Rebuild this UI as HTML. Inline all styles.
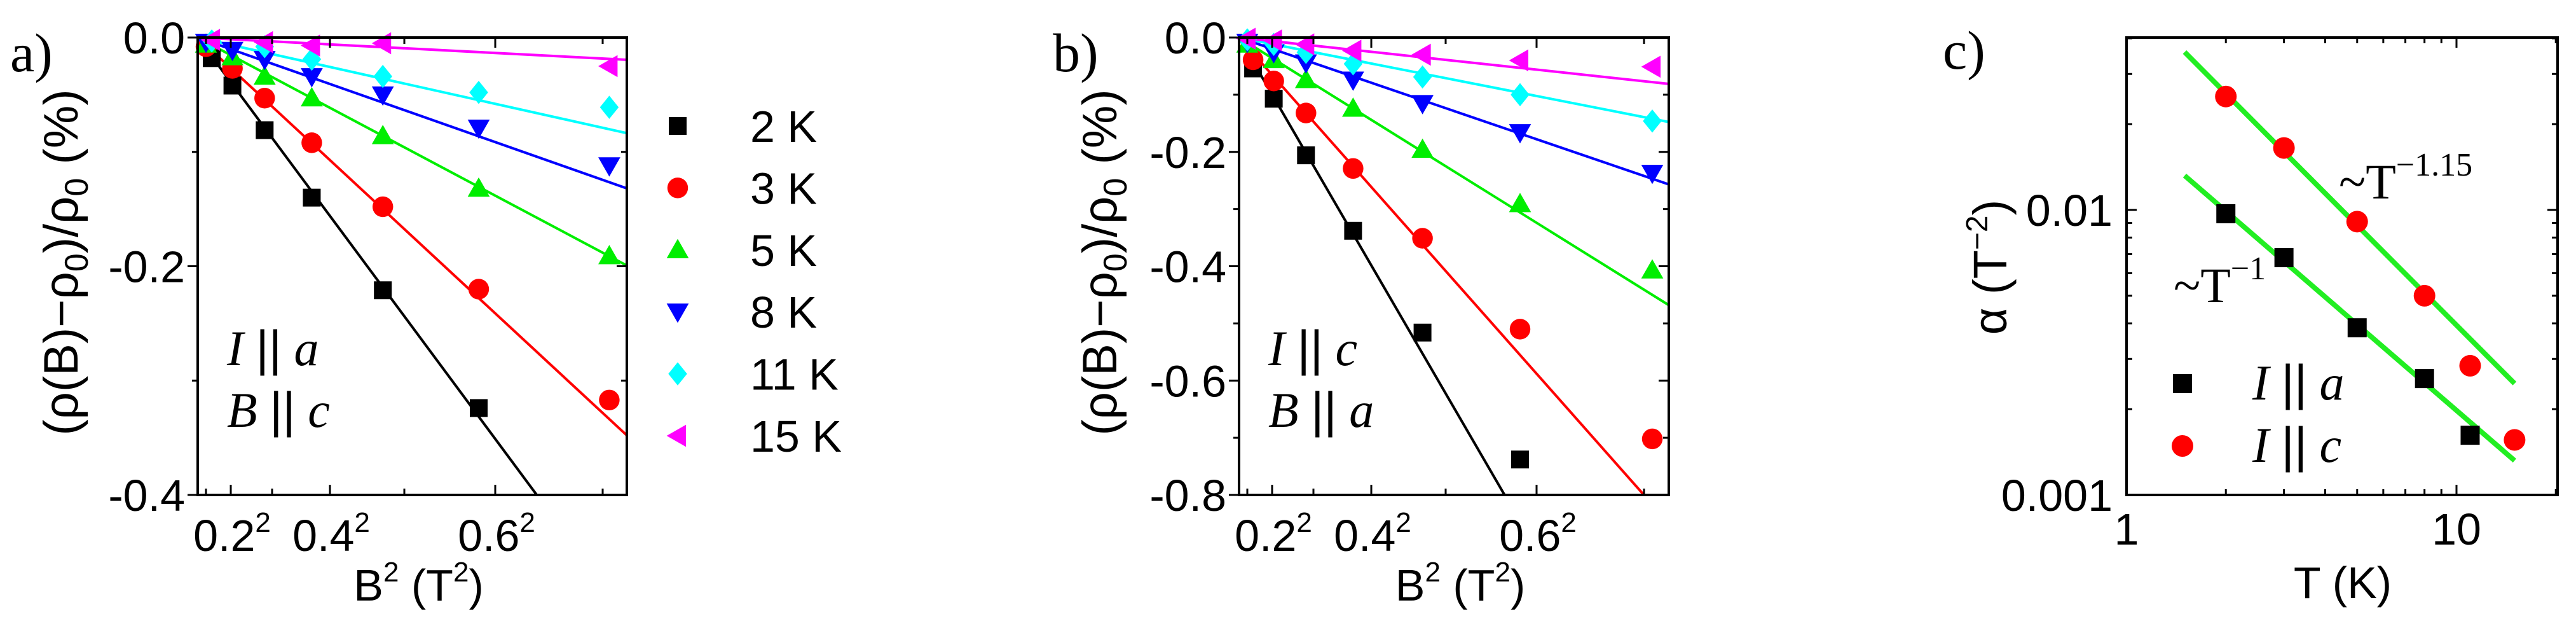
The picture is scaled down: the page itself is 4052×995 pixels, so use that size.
<!DOCTYPE html>
<html><head><meta charset="utf-8"><style>
html,body{margin:0;padding:0;background:#fff;overflow:hidden;width:4052px;height:995px;}
svg{display:block;}
text{font-family:"Liberation Sans",sans-serif;fill:#000;}
.serif{font-family:"Liberation Serif",serif;}
</style></head><body>
<svg id="fig" width="4052" height="995" viewBox="0 0 4052 995" xmlns="http://www.w3.org/2000/svg"></svg>
<script>
// ---------- data ----------
const tempLabels = ["2 K","3 K","5 K","8 K","11 K","15 K"];
const seriesColors = ["#000000","#ff0000","#00ee00","#0000ff","#00ffff","#ff00ff"];
const markerShapes = ["square","circle","up","down","diamond","left"];
// panel a
const aB2 = [
  [0.017,0.042,0.081,0.138,0.224,0.340],
  [0.010,0.042,0.081,0.138,0.224,0.340,0.498],
  [0.010,0.042,0.081,0.138,0.224,0.340,0.498],
  [0.010,0.042,0.081,0.138,0.224,0.340,0.498],
  [0.017,0.081,0.138,0.224,0.340,0.498],
  [0.017,0.081,0.138,0.224,0.498]
];
const aVals = [
  [-0.018,-0.042,-0.081,-0.140,-0.221,-0.324],
  [-0.008,-0.027,-0.053,-0.092,-0.148,-0.220,-0.317],
  [-0.006,-0.017,-0.034,-0.053,-0.086,-0.132,-0.191],
  [-0.004,-0.011,-0.019,-0.034,-0.050,-0.079,-0.112],
  [-0.003,-0.008,-0.019,-0.034,-0.048,-0.061],
  [-0.002,-0.004,-0.007,-0.005,-0.025]
];
const aSlopes = [-0.975,-0.67,-0.384,-0.254,-0.161,-0.0375];
// panel b
const bB2 = [
  [0.017,0.042,0.081,0.138,0.222,0.340],
  [0.017,0.042,0.081,0.138,0.222,0.340,0.500],
  [0.010,0.042,0.081,0.138,0.222,0.340,0.500],
  [0.010,0.042,0.081,0.138,0.222,0.340,0.500],
  [0.010,0.042,0.081,0.138,0.222,0.340,0.500],
  [0.010,0.042,0.081,0.138,0.222,0.340,0.500]
];
const bVals = [
  [-0.054,-0.107,-0.206,-0.338,-0.516,-0.738],
  [-0.039,-0.076,-0.132,-0.229,-0.351,-0.510,-0.702],
  [-0.012,-0.039,-0.074,-0.124,-0.196,-0.291,-0.407],
  [-0.008,-0.026,-0.044,-0.074,-0.115,-0.166,-0.237],
  [-0.004,-0.012,-0.026,-0.046,-0.069,-0.100,-0.146],
  [-0.002,-0.005,-0.012,-0.023,-0.030,-0.040,-0.051]
];
const bSlopes = [-2.49,-1.633,-0.90,-0.494,-0.284,-0.156];
// panel c
const cTa = [2,3,5,8,11];
const cAlphaA = [0.0097,0.0068,0.00386,0.00256,0.00162];
const cTc = [2,3,5,8,11,15];
const cAlphaC = [0.0250,0.0165,0.0091,0.0050,0.00284,0.00156];
const fitA = [[1.5,0.0132],[15,0.00132]];
const fitC = [[1.5,0.0358],[15,0.00246]];

const aYTicks = [0,-0.2,-0.4];
const aYTickLabels = ["0.0","-0.2","-0.4"];
const bYTicks = [0,-0.2,-0.4,-0.6,-0.8];
const bYTickLabels = ["0.0","-0.2","-0.4","-0.6","-0.8"];
const xTickB = [0.2,0.4,0.6];

const FS = 70;

// ---------- helpers ----------
const NS="http://www.w3.org/2000/svg";
const svg=document.getElementById('fig');
function mk(tag,attrs,parent){const e=document.createElementNS(NS,tag);for(const k in attrs)e.setAttribute(k,attrs[k]);(parent||svg).appendChild(e);return e;}
function txt(x,y,str,size,parent,anchor,cls){const t=mk('text',{x:x,y:y,'font-size':size,'text-anchor':anchor||'start'},parent);if(cls)t.setAttribute('class',cls);t.textContent=str;return t;}
function marker(shape,x,y,s,color,parent){
  let e;
  if(shape==="square") e=mk('rect',{x:x-s/2,y:y-s/2,width:s,height:s,fill:color},parent);
  else if(shape==="circle") e=mk('circle',{cx:x,cy:y,r:s*0.58,fill:color},parent);
  else {
    const h=s*0.62;let p;
    if(shape==="up") p=[[x,y-h],[x+h,y+h*0.75],[x-h,y+h*0.75]];
    else if(shape==="down") p=[[x,y+h],[x+h,y-h*0.75],[x-h,y-h*0.75]];
    else if(shape==="left") p=[[x-h,y],[x+h*0.75,y-h],[x+h*0.75,y+h]];
    else p=[[x,y-h*1.05],[x+h*0.85,y],[x,y+h*1.05],[x-h*0.85,y]];
    e=mk('polygon',{points:p.map(q=>q.join(',')).join(' '),fill:color},parent);
  }
  return e;
}

// ---------- panels a & b ----------
function linPanel(cfg){
  const g=mk('g',{});
  
  
  const L=cfg.L,R=cfg.R,T=59,B=778,xmax=(R-L)/1300;
  const X=v=>L+v/xmax*(R-L);
  const Y=v=>T+(v/cfg.ymin)*(B-T);
  const clip=mk('clipPath',{id:'clip'+cfg.id},g);
  mk('rect',{x:L,y:T,width:R-L,height:B-T},clip);
  const lines=mk('g',{'clip-path':'url(#clip'+cfg.id+')'},g);
  cfg.slopes.forEach((s,i)=>{
    const l=mk('line',{x1:X(0),y1:Y(0),x2:X(xmax),y2:Y(s*xmax),stroke:seriesColors[i],'stroke-width':4},lines);
    
    
  });
  cfg.xs.forEach((arr,i)=>{
    arr.forEach((v,j)=>{
      const m=marker(markerShapes[i],X(v),Y(cfg.vals[i][j]),28,seriesColors[i],g);
      
      
    });
  });
  const fr=mk('rect',{x:L,y:T,width:R-L,height:B-T,fill:'none',stroke:'#000','stroke-width':4},g);
  
  
  for(let v=0;v>=cfg.ymin-1e-9;v-=0.1){
    const major=Math.abs(Math.round(v*10))%2===0;
    const len=major?16:9;
    mk('line',{x1:L-len,y1:Y(v),x2:L,y2:Y(v),stroke:'#000','stroke-width':3},g);
    mk('line',{x1:R-len,y1:Y(v),x2:R,y2:Y(v),stroke:'#000','stroke-width':3},g);
  }
  cfg.yticks.forEach((v,i)=>{
    const t=txt(L-20,Y(v)+25,cfg.ylabels[i],FS,g,'end');
    
    
  });
  [0.1,0.2,0.3,0.4,0.5,0.6,0.7].forEach(b=>{
    const x=X(b*b);if(x>R)return;
    const major=[0.2,0.4,0.6].some(q=>Math.abs(q-b)<1e-9);
    mk('line',{x1:x,y1:B,x2:x,y2:B-(major?16:10),stroke:'#000','stroke-width':3},g);
    mk('line',{x1:x,y1:T,x2:x,y2:T+(major?16:10),stroke:'#000','stroke-width':3},g);
  });
  xTickB.forEach(b=>{
    const t=mk('text',{x:X(b*b)+2,y:866,'font-size':FS,'text-anchor':'middle'},g);
    
    
    t.textContent=b.toFixed(1);
    const s=mk('tspan',{dy:-30,'font-size':44},t);s.textContent='2';
  });
  const xt=mk('text',{x:(L+R)/2+10,y:944,'font-size':FS,'text-anchor':'middle'},g);
  
  
  xt.innerHTML='B<tspan dy="-30" font-size="44">2</tspan><tspan dy="30"> (T</tspan><tspan dy="-30" font-size="44">2</tspan><tspan dy="30">)</tspan>';
  const yt=mk('text',{x:0,y:0,'font-size':76,'text-anchor':'middle',transform:'translate('+(cfg.ytx)+','+((T+B)/2-6)+') rotate(-90)'},g);
  
  
  yt.innerHTML='(ρ(B)−ρ<tspan dy="16" font-size="52">0</tspan><tspan dy="-16">)/ρ</tspan><tspan dy="16" font-size="52">0</tspan><tspan dy="-16"> (%)</tspan>';
  const pl=txt(cfg.plx,112,cfg.letter,86,g,'start','serif');
  
  
  const a1=mk('text',{x:L+46,y:574,'font-size':78,'class':'serif'},g);
  
  
  a1.innerHTML='<tspan font-style="italic">I</tspan> <tspan font-family="Liberation Sans">||</tspan> <tspan font-style="italic">'+cfg.ann1+'</tspan>';
  const a2=mk('text',{x:L+46,y:671,'font-size':78,'class':'serif'},g);
  
  
  a2.innerHTML='<tspan font-style="italic">B</tspan> <tspan font-family="Liberation Sans">||</tspan> <tspan font-style="italic">'+cfg.ann2+'</tspan>';
  return g;
}

linPanel({id:'a',name:'panel-a',L:311,R:986,ymin:-0.4,xs:aB2,vals:aVals,slopes:aSlopes,yticks:aYTicks,ylabels:aYTickLabels,ytx:122,plx:16,letter:'a)',ann1:'a',ann2:'c'});
linPanel({id:'b',name:'panel-b',L:1949,R:2625,ymin:-0.8,xs:bB2,vals:bVals,slopes:bSlopes,yticks:bYTicks,ylabels:bYTickLabels,ytx:1756,plx:1656,letter:'b)',ann1:'c',ann2:'a'});

// legend panel a
const leg=mk('g',{});


tempLabels.forEach((lab,i)=>{
  const y=198+i*97.4;
  const e=mk('g',{},leg);
  
  
  marker(markerShapes[i],1066,y,28,seriesColors[i],e);
  txt(1180,y+25,lab,FS,e);
});

// ---------- panel c ----------
(function(){
  const g=mk('g',{});
  
  
  const L=3345,R=4023,T=59,B=778;
  const X=t=>L+Math.log10(t)*519;
  const Y=a=>B-Math.log10(a/0.001)*448;
  [[fitC,'fit-line-i-c'],[fitA,'fit-line-i-a']].forEach(([f,n])=>{
    const l=mk('line',{x1:X(f[0][0]),y1:Y(f[0][1]),x2:X(f[1][0]),y2:Y(f[1][1]),stroke:'#22ee22','stroke-width':8},g);
    
    
  });
  cTa.forEach((t,i)=>{
    const m=marker('square',X(t),Y(cAlphaA[i]),30,'#000',g);
    
    
  });
  cTc.forEach((t,i)=>{
    const m=mk('circle',{cx:X(t),cy:Y(cAlphaC[i]),r:17,fill:'#ff0000'},g);
    
    
  });
  const fr=mk('rect',{x:L,y:T,width:R-L,height:B-T,fill:'none',stroke:'#000','stroke-width':4},g);
  
  
  for(let d=0.001;d<0.05;d*=10){for(let k=1;k<10;k++){const v=d*k;const y=Y(v);if(y<T-1)break;const len=k===1?16:9;
    mk('line',{x1:L,y1:y,x2:L+len,y2:y,stroke:'#000','stroke-width':3},g);
    mk('line',{x1:R,y1:y,x2:R-len,y2:y,stroke:'#000','stroke-width':3},g);}}
  for(let d=1;d<=10;d*=10){for(let k=1;k<10;k++){const v=d*k;const x=X(v);if(x>R+1)break;const len=k===1?16:9;
    mk('line',{x1:x,y1:B,x2:x,y2:B-len,stroke:'#000','stroke-width':3},g);
    mk('line',{x1:x,y1:T,x2:x,y2:T+len,stroke:'#000','stroke-width':3},g);}}
  [[0.01,'0.01'],[0.001,'0.001']].forEach(([v,s])=>{
    const t=txt(L-22,Y(v)+25,s,FS,g,'end');
    
    
  });
  [[1,'1'],[10,'10']].forEach(([v,s])=>{
    const t=txt(X(v),856,s,FS,g,'middle');
    
    
  });
  const xt=txt(3685,940,'T (K)',FS,g,'middle');
  
  
  const yt=mk('text',{x:0,y:0,'font-size':74,'text-anchor':'middle',transform:'translate(3156,420) rotate(-90)'},g);
  
  
  yt.innerHTML='α (T<tspan dy="-30" font-size="48">−2</tspan><tspan dy="30">)</tspan>';
  const pl=txt(3056,108,'c)',86,g,'start','serif');
  
  
  const p1=mk('text',{x:3679,y:312,'font-size':78,'class':'serif'},g);
  
  
  p1.innerHTML='~T<tspan dy="-36" font-size="52">−1.15</tspan>';
  const p2=mk('text',{x:3419,y:475,'font-size':78,'class':'serif'},g);
  
  
  p2.innerHTML='~T<tspan dy="-36" font-size="52">−1</tspan>';
  const lg=mk('g',{},g);
  
  
  marker('square',3433,603,30,'#000',lg);
  mk('circle',{cx:3433,cy:701,r:17,fill:'#ff0000'},lg);
  const l1=mk('text',{x:3543,y:628,'font-size':78,'class':'serif'},lg);
  l1.innerHTML='<tspan font-style="italic">I</tspan> <tspan font-family="Liberation Sans">||</tspan> <tspan font-style="italic">a</tspan>';
  const l2=mk('text',{x:3543,y:726,'font-size':78,'class':'serif'},lg);
  l2.innerHTML='<tspan font-style="italic">I</tspan> <tspan font-family="Liberation Sans">||</tspan> <tspan font-style="italic">c</tspan>';
})();
</script>
</body></html>
